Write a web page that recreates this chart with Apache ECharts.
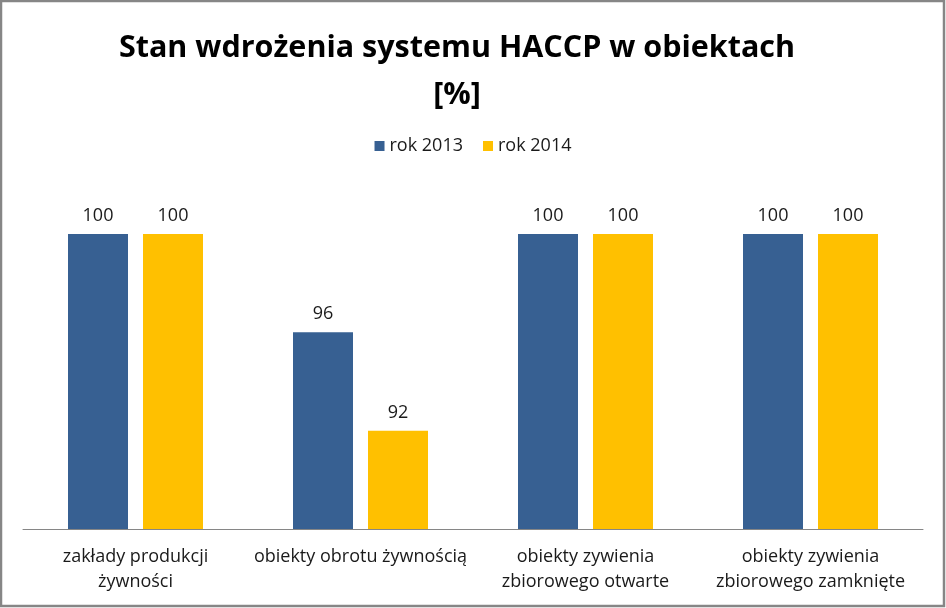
<!DOCTYPE html>
<html>
<head>
<meta charset="utf-8">
<script src="https://cdn.jsdelivr.net/npm/echarts@6/dist/echarts.min.js"></script>
<style>
html,body{margin:0;padding:0;background:#fff;}
#chart{width:946px;height:608px;}
</style>
</head>
<body>
<div id="chart"></div>
<script>
const categories = ['zakłady produkcji\nżywności', 'obiekty obrotu żywnością', 'obiekty zywienia\nzbiorowego otwarte', 'obiekty zywienia\nzbiorowego zamknięte'];
const seriesNames = ['rok 2013', 'rok 2014'];
const values2013 = [100, 96, 100, 100];
const values2014 = [100, 92, 100, 100];
const titleLines = ['Stan wdrożenia systemu HACCP w obiektach', '[%]'];

const FONT = '"Open Sans", "Noto Sans", sans-serif';
const chart = echarts.init(document.getElementById('chart'), null, {renderer: 'canvas'});
const labelStyle = {show: true, position: 'top', distance: 9, color: '#1a1a1a', fontFamily: FONT, fontSize: 18};
chart.setOption({
  animation: false,
  backgroundColor: '#ffffff',
  graphic: [
    {type: 'rect', shape: {x: 1, y: 1, width: 943, height: 605}, style: {fill: 'none', stroke: '#868686', lineWidth: 2.5}, silent: true},
    {type: 'text', x: 457, y: 25, style: {text: titleLines.join('\n'), textAlign: 'center', fontFamily: FONT, fontWeight: 'bold', fontSize: 30.5, lineHeight: 47, fill: '#000'}}
  ],
  legend: {
    data: seriesNames,
    top: 132,
    left: 'center',
    itemWidth: 10,
    itemHeight: 10,
    itemGap: 20,
    icon: 'rect',
    textStyle: {fontFamily: FONT, fontSize: 18, color: '#1a1a1a'}
  },
  grid: {left: 23, right: 23, top: 234, bottom: 79, containLabel: false},
  xAxis: {
    type: 'category',
    data: categories,
    axisLine: {lineStyle: {color: '#868686', width: 1}},
    axisTick: {show: false},
    axisLabel: {interval: 0, margin: 15, fontFamily: FONT, fontSize: 18, lineHeight: 25, color: '#1a1a1a'}
  },
  yAxis: {type: 'value', min: 88, max: 100, show: false, splitLine: {show: false}},
  series: [
    {name: seriesNames[0], type: 'bar', data: values2013, barGap: '25%', barCategoryGap: '40%', itemStyle: {color: '#376092'}, label: labelStyle},
    {name: seriesNames[1], type: 'bar', data: values2014, itemStyle: {color: '#FFC000'}, label: labelStyle}
  ]
});
</script>
</body>
</html>
